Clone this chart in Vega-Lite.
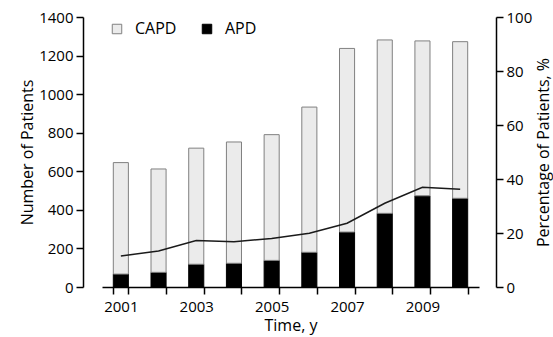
{
  "$schema": "https://vega.github.io/schema/vega-lite/v6.json",
  "width": 377,
  "height": 270,
  "autosize": {"type": "none"},
  "padding": {"left": 102, "top": 17, "right": 74, "bottom": 50},
  "background": "white",
  "config": {
    "view": {"stroke": null},
    "font": "Open Sans",
    "axis": {"grid": false, "domainColor": "black", "tickColor": "black", "labelColor": "black", "titleColor": "black", "domainWidth": 1.5, "tickWidth": 1.5, "labelFontSize": 15, "titleFontSize": 16, "titleFontWeight": "normal", "tickSize": 7, "format": "d"}
  },
  "datasets": {
    "bars": [
      {"year": 2001, "type": "APD", "count": 67},
      {"year": 2001, "type": "CAPD", "count": 578},
      {"year": 2002, "type": "APD", "count": 76},
      {"year": 2002, "type": "CAPD", "count": 536},
      {"year": 2003, "type": "APD", "count": 118},
      {"year": 2003, "type": "CAPD", "count": 602},
      {"year": 2004, "type": "APD", "count": 123},
      {"year": 2004, "type": "CAPD", "count": 629},
      {"year": 2005, "type": "APD", "count": 138},
      {"year": 2005, "type": "CAPD", "count": 652},
      {"year": 2006, "type": "APD", "count": 180},
      {"year": 2006, "type": "CAPD", "count": 753},
      {"year": 2007, "type": "APD", "count": 285},
      {"year": 2007, "type": "CAPD", "count": 952},
      {"year": 2008, "type": "APD", "count": 382},
      {"year": 2008, "type": "CAPD", "count": 899},
      {"year": 2009, "type": "APD", "count": 473},
      {"year": 2009, "type": "CAPD", "count": 803},
      {"year": 2010, "type": "APD", "count": 460},
      {"year": 2010, "type": "CAPD", "count": 812}
    ],
    "pct": [
      {"year": 2001, "percent": 11.5},
      {"year": 2002, "percent": 13.3},
      {"year": 2003, "percent": 17.2},
      {"year": 2004, "percent": 16.8},
      {"year": 2005, "percent": 18.0},
      {"year": 2006, "percent": 19.9},
      {"year": 2007, "percent": 23.6},
      {"year": 2008, "percent": 31.0},
      {"year": 2009, "percent": 36.9},
      {"year": 2010, "percent": 36.2}
    ]
  },
  "encoding": {
    "x": {
      "field": "year", "type": "ordinal",
      "scale": {"paddingInner": 0.6, "paddingOuter": 0.3},
      "axis": {"title": "Time, y", "labelAngle": 0, "tickBand": "extent", "labelPadding": 5, "titlePadding": 3, "labelExpr": "datum.value % 2 == 1 ? datum.label : ''"}
    }
  },
  "layer": [
    {
      "data": {"name": "bars"},
      "mark": {"type": "bar", "strokeWidth": 1},
      "encoding": {
        "y": {
          "field": "count", "type": "quantitative", "stack": "zero",
          "scale": {"domain": [0, 1400]},
          "axis": {"title": "Number of Patients", "values": [0, 200, 400, 600, 800, 1000, 1200, 1400], "offset": 19, "labelPadding": 3, "titlePadding": 3}
        },
        "order": {"field": "type", "sort": "ascending"},
        "fill": {
          "field": "type", "type": "nominal",
          "scale": {"domain": ["CAPD", "APD"], "range": ["#ebebeb", "#000000"]},
          "legend": {"title": null, "orient": "none", "legendX": 7, "legendY": 4, "direction": "horizontal", "symbolType": "square", "symbolSize": 90, "labelFontSize": 16, "labelColor": "black", "columnPadding": 22, "labelOffset": 10, "symbolStrokeWidth": 1}
        },
        "stroke": {
          "field": "type", "type": "nominal",
          "scale": {"domain": ["CAPD", "APD"], "range": ["#808080", "#000000"]},
          "legend": null
        }
      }
    },
    {
      "data": {"name": "pct"},
      "mark": {"type": "line", "color": "#1a1a1a", "strokeWidth": 1.5},
      "encoding": {
        "y": {
          "field": "percent", "type": "quantitative",
          "scale": {"domain": [0, 100]},
          "axis": {"title": "Percentage of Patients, %", "orient": "right", "titleAngle": 270, "values": [0, 20, 40, 60, 80, 100], "offset": 17, "labelPadding": 3, "titlePadding": 20}
        }
      }
    }
  ],
  "resolve": {"scale": {"y": "independent"}}
}
